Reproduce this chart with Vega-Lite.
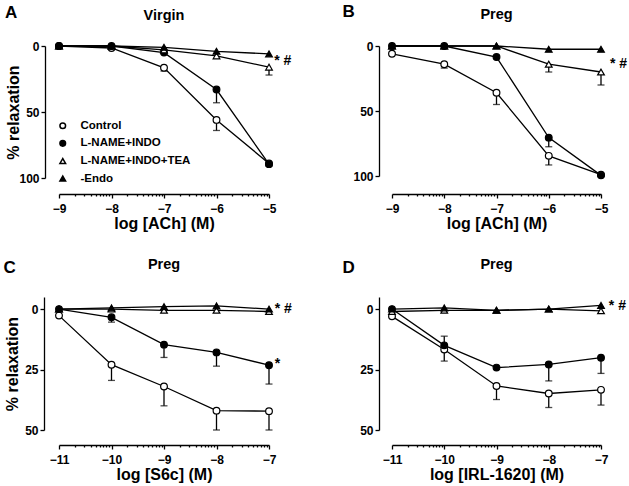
{
  "$schema": "https://vega.github.io/schema/vega-lite/v6.json",
  "background": "white",
  "padding": {"left": 3, "top": 3, "right": 0, "bottom": 5},
  "bounds": "flush",
  "columns": 2,
  "spacing": {"row": 119, "column": 123},
  "datasets": {
    "pts": [
      {"panel": "A", "series": "Control", "x": -9, "y": 0, "e": null},
      {"panel": "A", "series": "Control", "x": -8, "y": 1.5, "e": null},
      {"panel": "A", "series": "Control", "x": -7, "y": 16.5, "e": 19},
      {"panel": "A", "series": "Control", "x": -6, "y": 56, "e": 64},
      {"panel": "A", "series": "Control", "x": -5, "y": 89, "e": 91},
      {"panel": "A", "series": "L-NAME+INDO", "x": -9, "y": 0, "e": null},
      {"panel": "A", "series": "L-NAME+INDO", "x": -8, "y": 0, "e": null},
      {"panel": "A", "series": "L-NAME+INDO", "x": -7, "y": 5, "e": null},
      {"panel": "A", "series": "L-NAME+INDO", "x": -6, "y": 33, "e": 43},
      {"panel": "A", "series": "L-NAME+INDO", "x": -5, "y": 89.5, "e": null},
      {"panel": "A", "series": "L-NAME+INDO+TEA", "x": -9, "y": 0, "e": null},
      {"panel": "A", "series": "L-NAME+INDO+TEA", "x": -8, "y": 0, "e": null},
      {"panel": "A", "series": "L-NAME+INDO+TEA", "x": -7, "y": 3, "e": null},
      {"panel": "A", "series": "L-NAME+INDO+TEA", "x": -6, "y": 7.5, "e": null},
      {"panel": "A", "series": "L-NAME+INDO+TEA", "x": -5, "y": 16, "e": 22},
      {"panel": "A", "series": "-Endo", "x": -9, "y": 0, "e": null},
      {"panel": "A", "series": "-Endo", "x": -8, "y": 0, "e": null},
      {"panel": "A", "series": "-Endo", "x": -7, "y": 1, "e": null},
      {"panel": "A", "series": "-Endo", "x": -6, "y": 4, "e": null},
      {"panel": "A", "series": "-Endo", "x": -5, "y": 6, "e": null},

      {"panel": "B", "series": "Control", "x": -9, "y": 6, "e": null},
      {"panel": "B", "series": "Control", "x": -8, "y": 14, "e": 17},
      {"panel": "B", "series": "Control", "x": -7, "y": 36, "e": 45},
      {"panel": "B", "series": "Control", "x": -6, "y": 84.5, "e": 91.5},
      {"panel": "B", "series": "Control", "x": -5, "y": 99, "e": null},
      {"panel": "B", "series": "L-NAME+INDO", "x": -9, "y": 0, "e": null},
      {"panel": "B", "series": "L-NAME+INDO", "x": -8, "y": 0, "e": null},
      {"panel": "B", "series": "L-NAME+INDO", "x": -7, "y": 8.5, "e": null},
      {"panel": "B", "series": "L-NAME+INDO", "x": -6, "y": 70.5, "e": 77.5},
      {"panel": "B", "series": "L-NAME+INDO", "x": -5, "y": 99.5, "e": null},
      {"panel": "B", "series": "L-NAME+INDO+TEA", "x": -9, "y": 0, "e": null},
      {"panel": "B", "series": "L-NAME+INDO+TEA", "x": -8, "y": 0, "e": null},
      {"panel": "B", "series": "L-NAME+INDO+TEA", "x": -7, "y": 0, "e": null},
      {"panel": "B", "series": "L-NAME+INDO+TEA", "x": -6, "y": 14, "e": 20},
      {"panel": "B", "series": "L-NAME+INDO+TEA", "x": -5, "y": 20, "e": 30},
      {"panel": "B", "series": "-Endo", "x": -9, "y": 0, "e": null},
      {"panel": "B", "series": "-Endo", "x": -8, "y": 0, "e": null},
      {"panel": "B", "series": "-Endo", "x": -7, "y": 0, "e": null},
      {"panel": "B", "series": "-Endo", "x": -6, "y": 2.5, "e": null},
      {"panel": "B", "series": "-Endo", "x": -5, "y": 2.5, "e": null},

      {"panel": "C", "series": "Control", "x": -11, "y": 2.7, "e": null},
      {"panel": "C", "series": "Control", "x": -10, "y": 23, "e": 29.5},
      {"panel": "C", "series": "Control", "x": -9, "y": 32, "e": 40},
      {"panel": "C", "series": "Control", "x": -8, "y": 42, "e": 50},
      {"panel": "C", "series": "Control", "x": -7, "y": 42.2, "e": 50},
      {"panel": "C", "series": "L-NAME+INDO", "x": -11, "y": 0, "e": null},
      {"panel": "C", "series": "L-NAME+INDO", "x": -10, "y": 3.4, "e": 5.4},
      {"panel": "C", "series": "L-NAME+INDO", "x": -9, "y": 14.7, "e": 20},
      {"panel": "C", "series": "L-NAME+INDO", "x": -8, "y": 17.9, "e": 23.6},
      {"panel": "C", "series": "L-NAME+INDO", "x": -7, "y": 23.2, "e": 31},
      {"panel": "C", "series": "L-NAME+INDO+TEA", "x": -11, "y": 0, "e": null},
      {"panel": "C", "series": "L-NAME+INDO+TEA", "x": -10, "y": 0, "e": null},
      {"panel": "C", "series": "L-NAME+INDO+TEA", "x": -9, "y": 0.5, "e": null},
      {"panel": "C", "series": "L-NAME+INDO+TEA", "x": -8, "y": 0.5, "e": null},
      {"panel": "C", "series": "L-NAME+INDO+TEA", "x": -7, "y": 1, "e": null},
      {"panel": "C", "series": "-Endo", "x": -11, "y": 0, "e": null},
      {"panel": "C", "series": "-Endo", "x": -10, "y": -0.5, "e": null},
      {"panel": "C", "series": "-Endo", "x": -9, "y": -1, "e": null},
      {"panel": "C", "series": "-Endo", "x": -8, "y": -1.3, "e": null},
      {"panel": "C", "series": "-Endo", "x": -7, "y": 0, "e": null},

      {"panel": "D", "series": "Control", "x": -11, "y": 3, "e": null},
      {"panel": "D", "series": "Control", "x": -10, "y": 16.7, "e": 21.5},
      {"panel": "D", "series": "Control", "x": -9, "y": 31.8, "e": 37.4},
      {"panel": "D", "series": "Control", "x": -8, "y": 34.9, "e": 40.7},
      {"panel": "D", "series": "Control", "x": -7, "y": 33.4, "e": 39.7},
      {"panel": "D", "series": "L-NAME+INDO", "x": -11, "y": 0, "e": null},
      {"panel": "D", "series": "L-NAME+INDO", "x": -10, "y": 15, "e": 11.2},
      {"panel": "D", "series": "L-NAME+INDO", "x": -9, "y": 24.2, "e": null},
      {"panel": "D", "series": "L-NAME+INDO", "x": -8, "y": 22.9, "e": 29.7},
      {"panel": "D", "series": "L-NAME+INDO", "x": -7, "y": 20.1, "e": 26.6},
      {"panel": "D", "series": "L-NAME+INDO+TEA", "x": -11, "y": 1, "e": null},
      {"panel": "D", "series": "L-NAME+INDO+TEA", "x": -10, "y": 0.5, "e": null},
      {"panel": "D", "series": "L-NAME+INDO+TEA", "x": -9, "y": 0.5, "e": null},
      {"panel": "D", "series": "L-NAME+INDO+TEA", "x": -8, "y": 0, "e": null},
      {"panel": "D", "series": "L-NAME+INDO+TEA", "x": -7, "y": 0.7, "e": null},
      {"panel": "D", "series": "-Endo", "x": -11, "y": 0, "e": null},
      {"panel": "D", "series": "-Endo", "x": -10, "y": -0.5, "e": null},
      {"panel": "D", "series": "-Endo", "x": -9, "y": 0.5, "e": null},
      {"panel": "D", "series": "-Endo", "x": -8, "y": 0, "e": null},
      {"panel": "D", "series": "-Endo", "x": -7, "y": -1.5, "e": null}
    ],
    "notes": [
      {"panel": "A", "kind": "sig", "x": -4.9, "y": 11, "t": "* #"},
      {"panel": "B", "kind": "sig", "x": -4.83, "y": 14, "t": "* #"},
      {"panel": "C", "kind": "sig", "x": -6.89, "y": 0, "t": "* #"},
      {"panel": "C", "kind": "sig", "x": -6.89, "y": 22.7, "t": "*"},
      {"panel": "D", "kind": "sig", "x": -6.85, "y": -1.2, "t": "* #"},
      {"panel": "A", "kind": "tag", "x": -9.91, "y": -25, "t": "A"},
      {"panel": "B", "kind": "tag", "x": -9.83, "y": -26, "t": "B"},
      {"panel": "C", "kind": "tag", "x": -11.94, "y": -17, "t": "C"},
      {"panel": "D", "kind": "tag", "x": -11.83, "y": -17, "t": "D"}
    ]
  },
  "concat": [
    {
      "width": 210, "height": 132,
      "title": {"text": "Virgin", "offset": -19},
      "encoding": {
        "x": {"field": "x", "type": "quantitative", "scale": {"domain": [-9, -5], "nice": false, "zero": false},
          "axis": {"title": "log [ACh] (M)", "offset": 16,
            "values": [-9,-8.69897,-8.52288,-8.39794,-8.30103,-8.22185,-8.1549,-8.09691,-8.04576,-8,-7.69897,-7.52288,-7.39794,-7.30103,-7.22185,-7.1549,-7.09691,-7.04576,-7,-6.69897,-6.52288,-6.39794,-6.30103,-6.22185,-6.1549,-6.09691,-6.04576,-6,-5.69897,-5.52288,-5.39794,-5.30103,-5.22185,-5.1549,-5.09691,-5.04576,-5],
            "labelExpr": "datum.value % 1 == 0 ? format(datum.value, 'd') : ''",
            "tickSize": {"condition": {"test": "datum.value % 1 != 0", "value": 2}, "value": 4}}},
        "y": {"field": "y", "type": "quantitative", "scale": {"domain": [0, 100], "reverse": true, "nice": false, "zero": false},
          "axis": {"title": "% relaxation", "values": [0, 50, 100], "offset": 14, "minExtent": 22, "maxExtent": 22, "titlePadding": 2}}
      },
      "layer": [
        {"data": {"name": "pts"}, "transform": [{"filter": "datum.panel == 'A'"}],
          "mark": {"type": "line", "color": "black", "strokeWidth": 1.3},
          "encoding": {"detail": {"field": "series"}}},
        {"data": {"name": "pts"}, "transform": [{"filter": "datum.panel == 'A' && isValid(datum.e)"}],
          "mark": {"type": "rule", "color": "black", "strokeWidth": 1.3},
          "encoding": {"y2": {"field": "e"}}},
        {"data": {"name": "pts"}, "transform": [{"filter": "datum.panel == 'A' && isValid(datum.e)"}],
          "mark": {"type": "tick", "orient": "horizontal", "color": "black", "size": 7, "thickness": 1.3},
          "encoding": {"y": {"field": "e", "type": "quantitative"}}},
        {"data": {"name": "pts"}, "transform": [{"filter": "datum.panel == 'A'"}],
          "mark": {"type": "point", "stroke": "black", "strokeWidth": 1.2, "opacity": 1, "fillOpacity": 1, "size": 45},
          "encoding": {
            "shape": {"field": "series", "type": "nominal", "scale": {"domain": ["Control", "L-NAME+INDO", "L-NAME+INDO+TEA", "-Endo"], "range": ["circle", "circle", "triangle-up", "triangle-up"]},
              "legend": {"orient": "none", "legendX": -2, "legendY": 74, "title": null, "symbolSize": 32, "encode": {"symbols": {"update": {"stroke": {"value": "black"}, "strokeWidth": {"value": 1.2}}}}}},
            "fill": {"field": "series", "type": "nominal", "scale": {"domain": ["Control", "L-NAME+INDO", "L-NAME+INDO+TEA", "-Endo"], "range": ["white", "black", "white", "black"]},
              "legend": {"orient": "none", "legendX": -2, "legendY": 74, "title": null, "symbolSize": 32, "encode": {"symbols": {"update": {"stroke": {"value": "black"}, "strokeWidth": {"value": 1.2}}}}}}
          }},
        {"data": {"name": "notes"}, "transform": [{"filter": "datum.panel == 'A' && datum.kind == 'sig'"}],
          "mark": {"type": "text", "align": "left", "baseline": "middle", "font": "Liberation Sans", "fontSize": 14, "fontWeight": "bold", "color": "black"},
          "encoding": {"text": {"field": "t"}}},
        {"data": {"name": "notes"}, "transform": [{"filter": "datum.panel == 'A' && datum.kind == 'tag'"}],
          "mark": {"type": "text", "align": "center", "baseline": "middle", "font": "Liberation Sans", "fontSize": 17, "fontWeight": "bold", "color": "black"},
          "encoding": {"text": {"field": "t"}}}
      ]
    },
    {
      "width": 209, "height": 130,
      "title": {"text": "Preg", "offset": -19},
      "encoding": {
        "x": {"field": "x", "type": "quantitative", "scale": {"domain": [-9, -5], "nice": false, "zero": false},
          "axis": {"title": "log [ACh] (M)", "offset": 18,
            "values": [-9,-8.69897,-8.52288,-8.39794,-8.30103,-8.22185,-8.1549,-8.09691,-8.04576,-8,-7.69897,-7.52288,-7.39794,-7.30103,-7.22185,-7.1549,-7.09691,-7.04576,-7,-6.69897,-6.52288,-6.39794,-6.30103,-6.22185,-6.1549,-6.09691,-6.04576,-6,-5.69897,-5.52288,-5.39794,-5.30103,-5.22185,-5.1549,-5.09691,-5.04576,-5],
            "labelExpr": "datum.value % 1 == 0 ? format(datum.value, 'd') : ''",
            "tickSize": {"condition": {"test": "datum.value % 1 != 0", "value": 2}, "value": 4}}},
        "y": {"field": "y", "type": "quantitative", "scale": {"domain": [0, 100], "reverse": true, "nice": false, "zero": false},
          "axis": {"title": null, "values": [0, 50, 100], "offset": 13, "minExtent": 22, "maxExtent": 22}}
      },
      "layer": [
        {"data": {"name": "pts"}, "transform": [{"filter": "datum.panel == 'B'"}],
          "mark": {"type": "line", "color": "black", "strokeWidth": 1.3},
          "encoding": {"detail": {"field": "series"}}},
        {"data": {"name": "pts"}, "transform": [{"filter": "datum.panel == 'B' && isValid(datum.e)"}],
          "mark": {"type": "rule", "color": "black", "strokeWidth": 1.3},
          "encoding": {"y2": {"field": "e"}}},
        {"data": {"name": "pts"}, "transform": [{"filter": "datum.panel == 'B' && isValid(datum.e)"}],
          "mark": {"type": "tick", "orient": "horizontal", "color": "black", "size": 7, "thickness": 1.3},
          "encoding": {"y": {"field": "e", "type": "quantitative"}}},
        {"data": {"name": "pts"}, "transform": [{"filter": "datum.panel == 'B'"}],
          "mark": {"type": "point", "stroke": "black", "strokeWidth": 1.2, "opacity": 1, "fillOpacity": 1, "size": 45},
          "encoding": {
            "shape": {"field": "series", "type": "nominal", "scale": {"domain": ["Control", "L-NAME+INDO", "L-NAME+INDO+TEA", "-Endo"], "range": ["circle", "circle", "triangle-up", "triangle-up"]},
              "legend": {"orient": "none", "legendX": -2, "legendY": 74, "title": null, "symbolSize": 32, "encode": {"symbols": {"update": {"stroke": {"value": "black"}, "strokeWidth": {"value": 1.2}}}}}},
            "fill": {"field": "series", "type": "nominal", "scale": {"domain": ["Control", "L-NAME+INDO", "L-NAME+INDO+TEA", "-Endo"], "range": ["white", "black", "white", "black"]},
              "legend": {"orient": "none", "legendX": -2, "legendY": 74, "title": null, "symbolSize": 32, "encode": {"symbols": {"update": {"stroke": {"value": "black"}, "strokeWidth": {"value": 1.2}}}}}}
          }},
        {"data": {"name": "notes"}, "transform": [{"filter": "datum.panel == 'B' && datum.kind == 'sig'"}],
          "mark": {"type": "text", "align": "left", "baseline": "middle", "font": "Liberation Sans", "fontSize": 14, "fontWeight": "bold", "color": "black"},
          "encoding": {"text": {"field": "t"}}},
        {"data": {"name": "notes"}, "transform": [{"filter": "datum.panel == 'B' && datum.kind == 'tag'"}],
          "mark": {"type": "text", "align": "center", "baseline": "middle", "font": "Liberation Sans", "fontSize": 17, "fontWeight": "bold", "color": "black"},
          "encoding": {"text": {"field": "t"}}}
      ]
    },
    {
      "width": 210, "height": 133,
      "title": {"text": "Preg", "offset": -14},
      "encoding": {
        "x": {"field": "x", "type": "quantitative", "scale": {"domain": [-11, -7], "nice": false, "zero": false},
          "axis": {"title": "log [S6c] (M)", "offset": 15,
            "values": [-11,-10.69897,-10.52288,-10.39794,-10.30103,-10.22185,-10.1549,-10.09691,-10.04576,-10,-9.69897,-9.52288,-9.39794,-9.30103,-9.22185,-9.1549,-9.09691,-9.04576,-9,-8.69897,-8.52288,-8.39794,-8.30103,-8.22185,-8.1549,-8.09691,-8.04576,-8,-7.69897,-7.52288,-7.39794,-7.30103,-7.22185,-7.1549,-7.09691,-7.04576,-7],
            "labelExpr": "datum.value % 1 == 0 ? format(datum.value, 'd') : ''",
            "tickSize": {"condition": {"test": "datum.value % 1 != 0", "value": 2}, "value": 4}}},
        "y": {"field": "y", "type": "quantitative", "scale": {"domain": [-5, 50], "reverse": true, "nice": false, "zero": false},
          "axis": {"title": "% relaxation", "values": [0, 25, 50], "offset": 15, "minExtent": 22, "maxExtent": 22, "titlePadding": 2}}
      },
      "layer": [
        {"data": {"name": "pts"}, "transform": [{"filter": "datum.panel == 'C'"}],
          "mark": {"type": "line", "color": "black", "strokeWidth": 1.3},
          "encoding": {"detail": {"field": "series"}}},
        {"data": {"name": "pts"}, "transform": [{"filter": "datum.panel == 'C' && isValid(datum.e)"}],
          "mark": {"type": "rule", "color": "black", "strokeWidth": 1.3},
          "encoding": {"y2": {"field": "e"}}},
        {"data": {"name": "pts"}, "transform": [{"filter": "datum.panel == 'C' && isValid(datum.e)"}],
          "mark": {"type": "tick", "orient": "horizontal", "color": "black", "size": 7, "thickness": 1.3},
          "encoding": {"y": {"field": "e", "type": "quantitative"}}},
        {"data": {"name": "pts"}, "transform": [{"filter": "datum.panel == 'C'"}],
          "mark": {"type": "point", "stroke": "black", "strokeWidth": 1.2, "opacity": 1, "fillOpacity": 1, "size": 45},
          "encoding": {
            "shape": {"field": "series", "type": "nominal", "scale": {"domain": ["Control", "L-NAME+INDO", "L-NAME+INDO+TEA", "-Endo"], "range": ["circle", "circle", "triangle-up", "triangle-up"]},
              "legend": {"orient": "none", "legendX": -2, "legendY": 74, "title": null, "symbolSize": 32, "encode": {"symbols": {"update": {"stroke": {"value": "black"}, "strokeWidth": {"value": 1.2}}}}}},
            "fill": {"field": "series", "type": "nominal", "scale": {"domain": ["Control", "L-NAME+INDO", "L-NAME+INDO+TEA", "-Endo"], "range": ["white", "black", "white", "black"]},
              "legend": {"orient": "none", "legendX": -2, "legendY": 74, "title": null, "symbolSize": 32, "encode": {"symbols": {"update": {"stroke": {"value": "black"}, "strokeWidth": {"value": 1.2}}}}}}
          }},
        {"data": {"name": "notes"}, "transform": [{"filter": "datum.panel == 'C' && datum.kind == 'sig'"}],
          "mark": {"type": "text", "align": "left", "baseline": "middle", "font": "Liberation Sans", "fontSize": 14, "fontWeight": "bold", "color": "black"},
          "encoding": {"text": {"field": "t"}}},
        {"data": {"name": "notes"}, "transform": [{"filter": "datum.panel == 'C' && datum.kind == 'tag'"}],
          "mark": {"type": "text", "align": "center", "baseline": "middle", "font": "Liberation Sans", "fontSize": 17, "fontWeight": "bold", "color": "black"},
          "encoding": {"text": {"field": "t"}}}
      ]
    },
    {
      "width": 209, "height": 133,
      "title": {"text": "Preg", "offset": -14},
      "encoding": {
        "x": {"field": "x", "type": "quantitative", "scale": {"domain": [-11, -7], "nice": false, "zero": false},
          "axis": {"title": "log [IRL-1620] (M)", "offset": 15,
            "values": [-11,-10.69897,-10.52288,-10.39794,-10.30103,-10.22185,-10.1549,-10.09691,-10.04576,-10,-9.69897,-9.52288,-9.39794,-9.30103,-9.22185,-9.1549,-9.09691,-9.04576,-9,-8.69897,-8.52288,-8.39794,-8.30103,-8.22185,-8.1549,-8.09691,-8.04576,-8,-7.69897,-7.52288,-7.39794,-7.30103,-7.22185,-7.1549,-7.09691,-7.04576,-7],
            "labelExpr": "datum.value % 1 == 0 ? format(datum.value, 'd') : ''",
            "tickSize": {"condition": {"test": "datum.value % 1 != 0", "value": 2}, "value": 4}}},
        "y": {"field": "y", "type": "quantitative", "scale": {"domain": [-5, 50], "reverse": true, "nice": false, "zero": false},
          "axis": {"title": null, "values": [0, 25, 50], "offset": 13, "minExtent": 22, "maxExtent": 22}}
      },
      "layer": [
        {"data": {"name": "pts"}, "transform": [{"filter": "datum.panel == 'D'"}],
          "mark": {"type": "line", "color": "black", "strokeWidth": 1.3},
          "encoding": {"detail": {"field": "series"}}},
        {"data": {"name": "pts"}, "transform": [{"filter": "datum.panel == 'D' && isValid(datum.e)"}],
          "mark": {"type": "rule", "color": "black", "strokeWidth": 1.3},
          "encoding": {"y2": {"field": "e"}}},
        {"data": {"name": "pts"}, "transform": [{"filter": "datum.panel == 'D' && isValid(datum.e)"}],
          "mark": {"type": "tick", "orient": "horizontal", "color": "black", "size": 7, "thickness": 1.3},
          "encoding": {"y": {"field": "e", "type": "quantitative"}}},
        {"data": {"name": "pts"}, "transform": [{"filter": "datum.panel == 'D'"}],
          "mark": {"type": "point", "stroke": "black", "strokeWidth": 1.2, "opacity": 1, "fillOpacity": 1, "size": 45},
          "encoding": {
            "shape": {"field": "series", "type": "nominal", "scale": {"domain": ["Control", "L-NAME+INDO", "L-NAME+INDO+TEA", "-Endo"], "range": ["circle", "circle", "triangle-up", "triangle-up"]},
              "legend": {"orient": "none", "legendX": -2, "legendY": 74, "title": null, "symbolSize": 32, "encode": {"symbols": {"update": {"stroke": {"value": "black"}, "strokeWidth": {"value": 1.2}}}}}},
            "fill": {"field": "series", "type": "nominal", "scale": {"domain": ["Control", "L-NAME+INDO", "L-NAME+INDO+TEA", "-Endo"], "range": ["white", "black", "white", "black"]},
              "legend": {"orient": "none", "legendX": -2, "legendY": 74, "title": null, "symbolSize": 32, "encode": {"symbols": {"update": {"stroke": {"value": "black"}, "strokeWidth": {"value": 1.2}}}}}}
          }},
        {"data": {"name": "notes"}, "transform": [{"filter": "datum.panel == 'D' && datum.kind == 'sig'"}],
          "mark": {"type": "text", "align": "left", "baseline": "middle", "font": "Liberation Sans", "fontSize": 14, "fontWeight": "bold", "color": "black"},
          "encoding": {"text": {"field": "t"}}},
        {"data": {"name": "notes"}, "transform": [{"filter": "datum.panel == 'D' && datum.kind == 'tag'"}],
          "mark": {"type": "text", "align": "center", "baseline": "middle", "font": "Liberation Sans", "fontSize": 17, "fontWeight": "bold", "color": "black"},
          "encoding": {"text": {"field": "t"}}}
      ]
    }
  ],
  "config": {
    "view": {"stroke": null},
    "font": "Liberation Sans",
    "axis": {
      "grid": false, "domainColor": "black", "domainWidth": 1.3, "tickColor": "black", "tickWidth": 1.3, "tickSize": 4,
      "labelFont": "Liberation Sans", "labelFontSize": 12, "labelFontWeight": "bold", "labelColor": "black", "labelPadding": 2,
      "labelOverlap": false, "labelFlush": false,
      "titleFont": "Liberation Sans", "titleFontSize": 16, "titleFontWeight": "bold", "titleColor": "black", "titlePadding": 1
    },
    "axisX": {"labelPadding": 5},
    "title": {"font": "Liberation Sans", "fontSize": 14.5, "fontWeight": "bold", "color": "black", "anchor": "middle", "frame": "group"},
    "legend": {
      "padding": 0,
      "labelFont": "Liberation Sans", "labelFontSize": 11.5, "labelFontWeight": "bold", "labelColor": "black",
      "rowPadding": 4.6, "labelOffset": 12
    }
  }
}
